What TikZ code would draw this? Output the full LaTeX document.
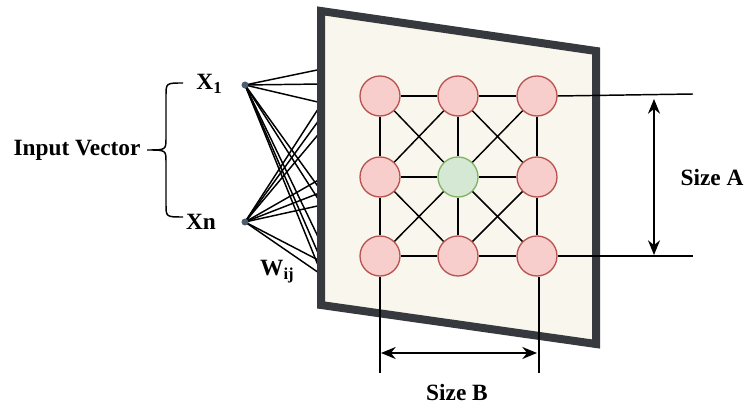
\documentclass[tikz,border=0pt]{standalone}
\usepackage{fontspec}
\setmainfont{Liberation Serif}
\usetikzlibrary{arrows.meta}
\definecolor{panelfill}{HTML}{F9F7ED}
\definecolor{paneldraw}{HTML}{36393D}
\definecolor{pinkfill}{HTML}{F8CECC}
\definecolor{pinkdraw}{HTML}{B85450}
\definecolor{greenfill}{HTML}{D5E8D4}
\definecolor{greendraw}{HTML}{82B366}
\definecolor{dotcol}{HTML}{4B5B70}
\newcommand{\mysub}[1]{\raisebox{-0.35ex}{\fontsize{12.5}{13}\selectfont\bfseries #1}}
\begin{document}
\begin{tikzpicture}[x=0.75pt,y=-0.75pt,
  neuron/.style={circle,draw=pinkdraw,fill=pinkfill,line width=1pt,minimum size=30pt,inner sep=0pt},
  winner/.style={neuron,draw=greendraw,fill=greenfill},
  link/.style={line width=1.1pt,black},
  fan/.style={line width=1.1pt,black},
  lbl/.style={font=\fontsize{17.5}{19}\selectfont\bfseries,inner sep=0pt},
  dot/.style={circle,fill=dotcol,inner sep=0pt,minimum size=5pt},
  dimline/.style={line width=1.2pt,black,{Stealth[length=11pt,width=9pt]}-{Stealth[length=11pt,width=9pt]}},
  guide/.style={line width=1.1pt,black}]
\useasboundingbox (0,0) rectangle (744,409);

% input dots
\node[dot] (x1) at (245,85) {};
\node[dot] (xn) at (245,222) {};

% fan end points on the panel edge
\foreach \n/\y in {a/69,b/84,c/103,d/116,e/130,f/178,g/192,h/205,i/245,j/262,k/275}
  \coordinate (e\n) at (322,\y);
\foreach \n in {a,b,c,g,h,i,j,k}
  \draw[fan] (x1.center) -- (e\n);
\foreach \n in {c,d,e,f,g,h,j,k}
  \draw[fan] (xn.center) -- (e\n);
\node[dot] at (x1) {};
\node[dot] at (xn) {};

% panel
\draw[line width=6pt,draw=paneldraw,fill=panelfill,line join=miter]
  (321,11) -- (596,51) -- (596,344) -- (321,305) -- cycle;

% neurons
\node[neuron] (n11) at (380,96) {};
\node[neuron] (n12) at (458,96) {};
\node[neuron] (n13) at (537,96) {};
\node[neuron] (n21) at (380,177) {};
\node[winner] (c)   at (458,177) {};
\node[neuron] (n23) at (537,177) {};
\node[neuron] (n31) at (380,256) {};
\node[neuron] (n32) at (458,256) {};
\node[neuron] (n33) at (537,256) {};

% links
\foreach \a/\b in {n11/n12,n12/n13,n31/n32,n32/n33,n11/n21,n21/n31,n13/n23,n23/n33,
                   n11/c,n12/c,n13/c,n21/c,n23/c,n31/c,n32/c,n33/c,
                   n12/n21,n12/n23,n21/n32,n23/n32}
  \draw[link] (\a) -- (\b);

% size A
\coordinate (ra) at (693,94);
\coordinate (rb) at (693,256);
\draw[guide] (n13.east) -- (ra);
\draw[guide] (n33.east) -- (rb);
\coordinate (aa) at (654,99);
\coordinate (ab) at (654,255);
\draw[dimline] (aa) -- (ab);
\node[lbl] (sizea) at (712,178) {Size A};

% size B
\coordinate (ba) at (380,373);
\coordinate (bb) at (539,373);
\draw[guide] (n31.south) -- (ba);
\draw[guide] (n33.south -| bb) -- (bb);
\coordinate (ca) at (381,353);
\coordinate (cb) at (537,353);
\draw[dimline] (ca) -- (cb);
\node[lbl] (sizeb) at (457,393) {Size B};

% labels
\node[lbl] (lx1) at (209,84) {X\mysub{1}};
\node[lbl] (lxn) at (201,222) {Xn};
\node[lbl] (lw) at (277,272) {W\mysub{ij}};
\node[lbl] (inp) at (77,150) {Input Vector};

% brace
\draw[line width=1.1pt] (183,83) .. controls (166,83) .. (166,96) -- (166,138)
  .. controls (166,150) .. (147,150)
  .. controls (166,150) .. (166,162) -- (166,204)
  .. controls (166,217) .. (183,217);
\end{tikzpicture}
\end{document}
